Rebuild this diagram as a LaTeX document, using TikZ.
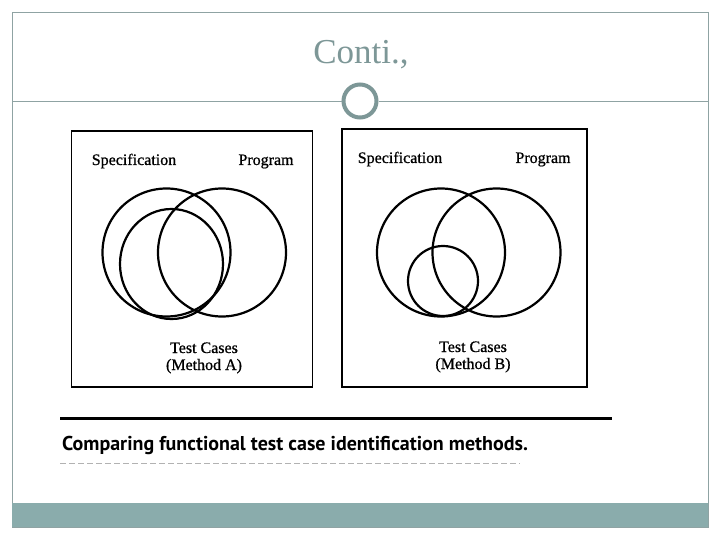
\documentclass[tikz,border=0pt]{standalone}
\usetikzlibrary{shapes.geometric}
\usepackage{fontspec}
\setmainfont{Liberation Serif}
\newfontfamily\capfont{PT Sans}
\newfontfamily\labfont[FakeBold=0.8]{Liberation Serif}
\definecolor{teal1}{HTML}{8AACAC}
\definecolor{frame1}{HTML}{8FA3A3}
\definecolor{title1}{HTML}{7D9797}
\begin{document}
\begin{tikzpicture}[x=1pt,y=-1pt,
  venn/.style={draw=black,line width=2.2pt},
  panel/.style={draw=black,line width=1.8pt},
  lab/.style={font=\labfont\fontsize{16}{18}\selectfont,inner sep=0pt,anchor=base}]
\useasboundingbox (0,0) rectangle (720,540);
\fill[white] (0,0) rectangle (720,540);
% slide frame
\draw[frame1,line width=0.8pt] (12,12) rectangle (708,527);
\fill[teal1] (12,503) rectangle (708,527);
\node[font=\fontsize{35}{38}\selectfont,text=title1,inner sep=0pt,anchor=base] (title) at (361,64) {Conti.,};
\coordinate (l1) at (12,101);
\coordinate (l2) at (708,101);
\node[circle,draw=title1,line width=4pt,minimum size=33pt,inner sep=0pt] (ring) at (360,101) {};
\draw[frame1,line width=0.8pt] (l1) -- (ring.west);
\draw[frame1,line width=0.8pt] (ring.east) -- (l2);
% left panel
\node[panel,minimum width=241pt,minimum height=256pt,inner sep=0pt] (boxA) at (192,259) {};
\node[venn,circle,minimum size=128pt,inner sep=0pt] (specA) at (166.5,252.5) {};
\node[venn,circle,minimum size=128pt,inner sep=0pt] (progA) at (222,252.5) {};
\node[venn,ellipse,minimum width=103pt,minimum height=110pt,inner sep=0pt] (testA) at (171.5,264) {};
\node[lab] (sA) at (134,165) {Specification};
\node[lab] (pA) at (266,165) {Program};
\node[lab] (tA) at (204,353) {Test Cases};
\node[lab] (mA) at (204,370) {(Method A)};
% right panel
\node[panel,minimum width=245pt,minimum height=258pt,inner sep=0pt] (boxB) at (464.5,258) {};
\node[venn,circle,minimum size=128pt,inner sep=0pt] (specB) at (441,252.5) {};
\node[venn,circle,minimum size=128pt,inner sep=0pt] (progB) at (496.5,252.5) {};
\node[venn,circle,minimum size=70pt,inner sep=0pt] (testB) at (443,281) {};
\node[lab] (sB) at (400,163) {Specification};
\node[lab] (pB) at (543,163) {Program};
\node[lab] (tB) at (473,352) {Test Cases};
\node[lab] (mB) at (473,369) {(Method B)};
% caption
\coordinate (r1) at (60,418);
\coordinate (r2) at (612,418);
\draw[black,line width=3pt] (r1) -- (r2);
\node[anchor=west,inner sep=0pt,font=\capfont\bfseries\fontsize{20}{23}\selectfont] (cap) at (62,445) {Comparing functional test case identification methods.};
\coordinate (d1) at (60,463);
\coordinate (d2) at (520,463);
\draw[gray!60,line width=0.6pt,dash pattern=on 6pt off 3pt] (d1) -- (d2);
\end{tikzpicture}
\end{document}
